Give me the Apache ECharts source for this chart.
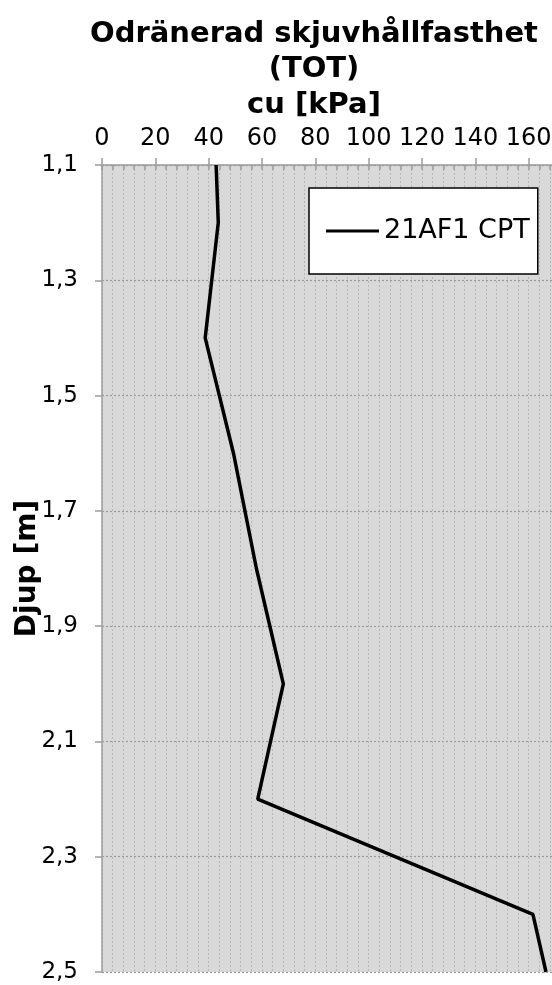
<!DOCTYPE html>
<html>
<head>
<meta charset="utf-8">
<script src="https://cdn.jsdelivr.net/npm/echarts@6/dist/echarts.min.js"></script>
<style>
  html, body { margin: 0; padding: 0; background: #ffffff; }
  #chart { width: 552px; height: 985px; }
</style>
</head>
<body>
<div id="chart"></div>
<script>
// Undrained shear strength profile from CPT 21AF1
const seriesName = '21AF1 CPT';
const depthM = [1.1, 1.2, 1.4, 1.6, 1.8, 2.0, 2.2, 2.4, 2.5];
const cuKPa = [42.8, 43.6, 38.7, 49.3, 57.9, 68.0, 58.4, 161.6, 166.5];
const cuTicks = [0, 20, 40, 60, 80, 100, 120, 140, 160, 180];
const depthTicks = [1.1, 1.3, 1.5, 1.7, 1.9, 2.1, 2.3, 2.5];

const FONT = 'DejaVu Sans';
const points = depthM.map((d, i) => [cuKPa[i], d]);

// plot area runs past the right edge of the canvas
const gridBox = { left: 102, top: 165, width: 480, height: 807, outerBoundsMode: 'none', containLabel: false };

const chart = echarts.init(document.getElementById('chart'), null, { renderer: 'canvas' });

chart.setOption({
  animation: false,
  backgroundColor: '#ffffff',
  title: [
    {
      text: 'Odränerad skjuvhållfasthet\n(TOT)',
      left: 309, top: 12, textAlign: 'center',
      textStyle: { fontFamily: FONT, fontWeight: 'bold', fontSize: 29, lineHeight: 35, color: '#000' }
    },
    {
      text: 'cu [kPa]',
      left: 309, top: 82, textAlign: 'center',
      textStyle: { fontFamily: FONT, fontWeight: 'bold', fontSize: 29, lineHeight: 36, color: '#000' }
    }
  ],
  legend: {
    show: true,
    left: 309, top: 188,
    orient: 'vertical',
    backgroundColor: '#ffffff',
    borderColor: '#000000',
    borderWidth: 1.5,
    borderRadius: 0,
    padding: [29.5, 8, 29.5, 17],
    itemWidth: 53,
    itemHeight: 14,
    itemGap: 0,
    icon: 'path://M0,0 L53,0 L53,3 L0,3 Z',
    textStyle: { fontFamily: FONT, fontSize: 27, color: '#000' },
    data: [seriesName]
  },
  grid: [
    Object.assign({ show: true, backgroundColor: '#d9d9d9', borderWidth: 0 }, gridBox),
    Object.assign({ show: false }, gridBox)
  ],
  xAxis: [
    {
      type: 'value', gridIndex: 0, position: 'top',
      min: cuTicks[0], max: cuTicks[cuTicks.length - 1], interval: 20,
      axisLine: { show: true, lineStyle: { color: '#9c9c9c', width: 1.5 } },
      axisTick: { show: true, length: 7, lineStyle: { color: '#9c9c9c', width: 1.5 } },
      axisLabel: { show: true, margin: 14, fontFamily: FONT, fontSize: 24, color: '#000' },
      splitLine: { show: true, lineStyle: { color: '#b8b8b8', type: [2, 2], width: 1 } },
      minorTick: { show: false, splitNumber: 5 },
      minorSplitLine: { show: true, lineStyle: { color: '#b8b8b8', type: [2, 2], width: 1 } }
    },
    {
      type: 'value', gridIndex: 1, position: 'top',
      min: cuTicks[0], max: cuTicks[cuTicks.length - 1], interval: 20,
      axisLine: { show: false },
      axisTick: { show: true, inside: true, length: 5, lineStyle: { color: '#9c9c9c', width: 1.5 } },
      axisLabel: { show: false },
      splitLine: { show: false },
      minorTick: { show: true, splitNumber: 5, length: 5, lineStyle: { color: '#9c9c9c', width: 1.5 } }
    }
  ],
  yAxis: [
    {
      type: 'value', gridIndex: 0, inverse: true,
      min: depthTicks[0], max: depthTicks[depthTicks.length - 1], interval: 0.2,
      name: 'Djup [m]', nameLocation: 'middle', nameGap: 60, nameRotate: 90,
      nameMoveOverlap: false,
      nameTextStyle: { fontFamily: FONT, fontWeight: 'bold', fontSize: 28, color: '#000' },
      axisLine: { show: true, lineStyle: { color: '#9c9c9c', width: 1.5 } },
      axisTick: { show: true, length: 7, lineStyle: { color: '#9c9c9c', width: 1.5 } },
      axisLabel: {
        show: true, margin: 24, fontFamily: FONT, fontSize: 23, color: '#000',
        formatter: v => v.toFixed(1).replace('.', ',')
      },
      splitLine: { show: true, lineStyle: { color: '#9a9a9a', type: [2, 2], width: 1.2 } }
    },
    {
      type: 'value', gridIndex: 1, inverse: true, show: false,
      min: depthTicks[0], max: depthTicks[depthTicks.length - 1]
    }
  ],
  series: [
    {
      name: seriesName,
      type: 'line',
      xAxisIndex: 0, yAxisIndex: 0,
      data: points,
      symbol: 'none',
      lineStyle: { color: '#000000', width: 3.5 },
      itemStyle: { color: '#000000' }
    }
  ]
});
</script>
</body>
</html>
